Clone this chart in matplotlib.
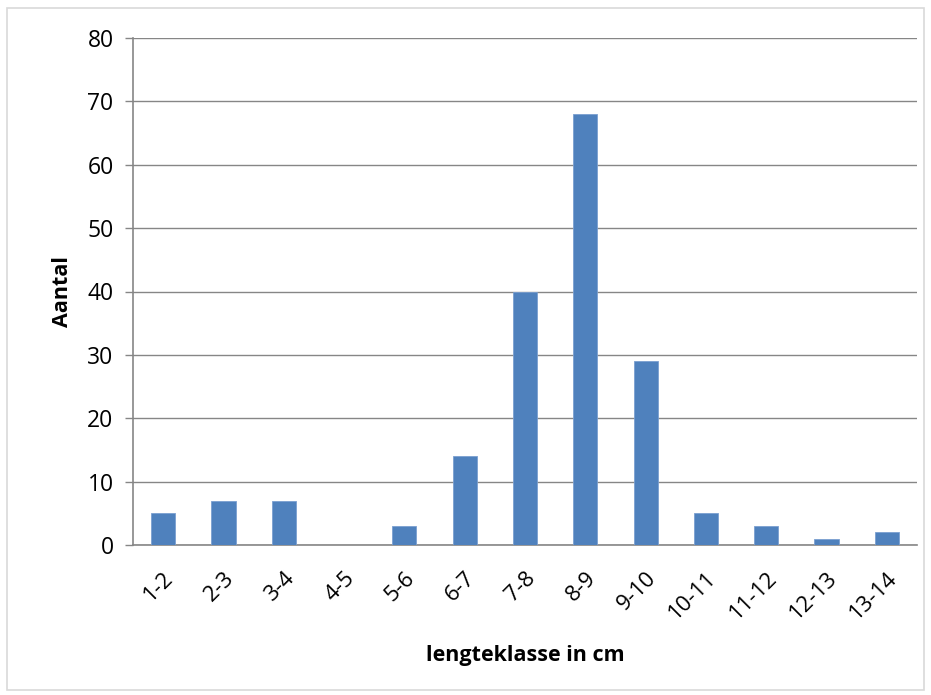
import matplotlib
matplotlib.use("Agg")
import matplotlib.pyplot as plt
from matplotlib.patches import Rectangle

categories = ["1-2", "2-3", "3-4", "4-5", "5-6", "6-7", "7-8", "8-9", "9-10",
              "10-11", "11-12", "12-13", "13-14"]
values = [5, 7, 7, 0, 3, 14, 40, 68, 29, 5, 3, 1, 2]
yticks = [0, 10, 20, 30, 40, 50, 60, 70, 80]

plt.rcParams['font.family'] = ['Open Sans', 'DejaVu Sans']

fig = plt.figure(figsize=(9.31, 6.95), dpi=100)
fig.patches.append(Rectangle((7/931, 1-690/695), (924-7)/931, (690-8)/695,
                             transform=fig.transFigure, fill=False,
                             edgecolor='#d9d9d9', linewidth=1.2))
ax = fig.add_axes([133/931, 1-545/695, (917-133)/931, (545-38)/695])

x = list(range(len(categories)))
ax.bar(x, values, width=0.4, color='#4F81BD', edgecolor='#7a9fd0', linewidth=0.6, zorder=3)
ax.set_xlim(-0.5, len(categories) - 0.5)
ax.set_ylim(0, 80)
ax.set_yticks(yticks)
ax.set_yticklabels([str(v) for v in yticks], fontsize=16.5)
ax.set_xticks(x)
ax.set_xticklabels(categories, rotation=45, ha='right', rotation_mode='anchor', fontsize=16)
ax.tick_params(axis='x', length=0, pad=16)
ax.tick_params(axis='y', length=6, color='#868686', width=1, pad=8)
ax.grid(axis='y', color='#868686', linewidth=1, zorder=0)
for s in ['top', 'right']:
    ax.spines[s].set_visible(False)
for s in ['left', 'bottom']:
    ax.spines[s].set_color('#868686')
    ax.spines[s].set_linewidth(1.2)
ax.set_ylabel('Aantal', fontsize=15.5, fontweight='bold', labelpad=10)
ax.set_xlabel('lengteklasse in cm', fontsize=15.5, fontweight='bold', labelpad=16)

fig.savefig('out.png', dpi=100)
